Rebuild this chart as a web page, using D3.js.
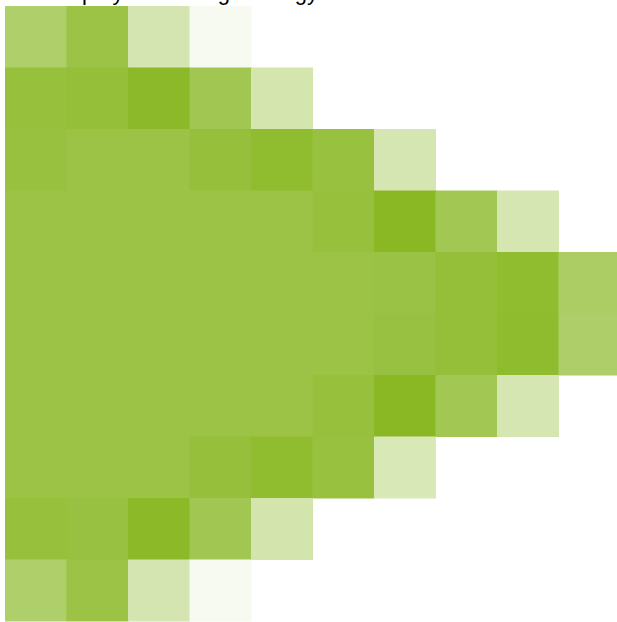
<!DOCTYPE html>
<html lang="en">
<head>
  <meta charset="UTF-8">
  <title>Heatmap</title>
  <script src="https://d3js.org/d3.v7.min.js"></script>
  <style>
    body { margin: 0; background: #fff; }
    .title { font: 22px "Liberation Sans", Arial, sans-serif; fill: #000; }
  </style>
</head>
<body>
<svg width="617" height="622"></svg>
<script>
// columns and rows of the grid
const columns = ["1", "2", "3", "4", "5", "6", "7", "8", "9", "10"];
const rows = ["1", "2", "3", "4", "5", "6", "7", "8", "9", "10"];

// cell values per row, null = empty cell
const row1 = [68, 85, 36, 7, null, null, null, null, null, null];
const row2 = [89, 91, 98, 80, 37, null, null, null, null, null];
const row3 = [88, 85, 85, 90, 95, 88, 35, null, null, null];
const row4 = [85, 85, 85, 85, 85, 89, 100, 79, 35, null];
const row5 = [85, 85, 85, 85, 85, 85, 86, 91, 95, 71];
const row6 = [85, 85, 85, 85, 85, 85, 87, 91, 96, 69];
const row7 = [85, 85, 85, 85, 85, 89, 100, 79, 35, null];
const row8 = [85, 85, 85, 90, 95, 88, 33, null, null, null];
const row9 = [89, 87, 99, 80, 38, null, null, null, null, null];
const row10 = [68, 85, 36, 7, null, null, null, null, null, null];

const values = [row1, row2, row3, row4, row5, row6, row7, row8, row9, row10];

const svg = d3.select("svg"),
  margin = { top: 6, left: 5 },
  size = 615;

const x = d3.scaleBand().domain(columns).range([0, size]);
const y = d3.scaleBand().domain(rows).range([0, size]);
const color = d3.scaleLinear().domain([0, 100]).range(["#ffffff", "#8ab825"]);

const cells = [];
values.forEach((r, i) => {
  r.forEach((v, j) => {
    if (v !== null) cells.push({ row: rows[i], col: columns[j], value: v });
  });
});

const g = svg.append("g")
  .attr("transform", `translate(${margin.left},${margin.top})`);

g.selectAll("rect")
  .data(cells)
  .join("rect")
  .attr("x", d => x(d.col))
  .attr("y", d => y(d.row))
  .attr("width", x.bandwidth() + 0.5)
  .attr("height", y.bandwidth() + 0.5)
  .attr("fill", d => color(d.value));

// title sits mostly above the visible area, only descenders show
svg.append("text")
  .attr("class", "title")
  .attr("x", 5)
  .attr("y", 0)
  .text("Heatmap by Defending Strategy");
</script>
</body>
</html>
